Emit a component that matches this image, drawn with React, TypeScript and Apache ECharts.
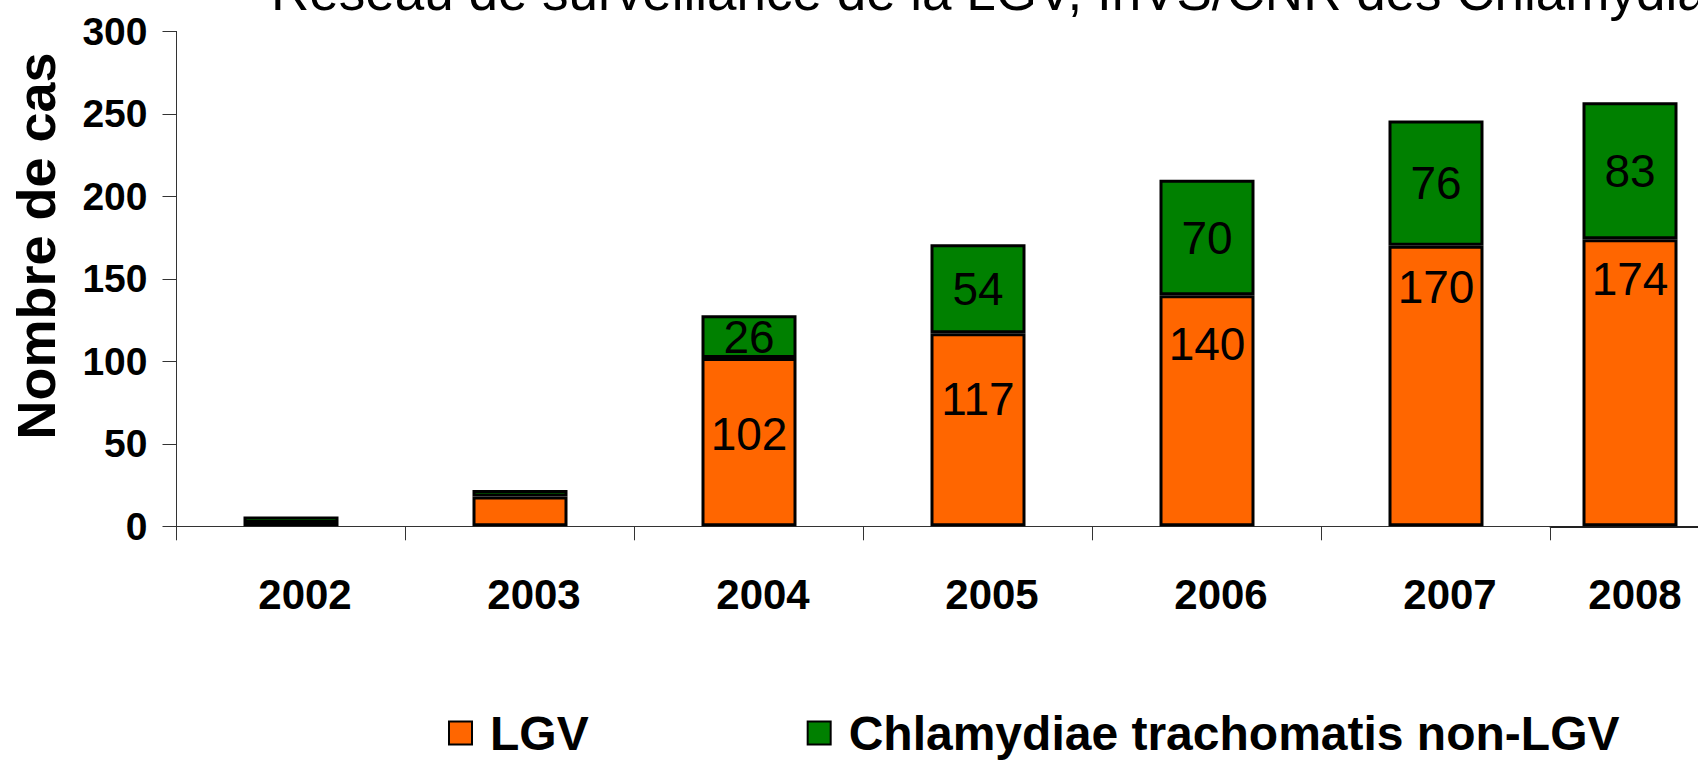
import React, { useEffect, useRef } from "react";
import * as echarts from "echarts";

const years = ["2002", "2003", "2004", "2005", "2006", "2007", "2008"];
const lgv = [2, 18, 102, 117, 140, 170, 174];
const nonLgv = [4, 4, 26, 54, 70, 76, 83];
const lgvLabelDistance = [0, 0, 53, 43, 26, 18, 17];
const yMin = 0;
const yMax = 300;
const yStep = 50;
const seriesNames = ["LGV", "Chlamydiae trachomatis non-LGV"];
const titleText = "Réseau de surveillance de la LGV, InVS/CNR des Chlamydiae";
const yName = "Nombre de cas";
// the last year sits in its own (narrower) panel, as in the source slide
const mainCount = 6;

const SANS = "'Liberation Sans', Arial, Helvetica, sans-serif";

export default function App() {
  const ref = useRef<HTMLDivElement>(null);
  useEffect(() => {
    if (!ref.current) return;
    const chart = echarts.init(ref.current, null, { renderer: "svg" });
    const showVal = (p: any) => (p.value >= 20 ? String(p.value) : "");
    const axisLineStyle = { color: "#333", width: 1 };
    const yAxisBase = {
      type: "value",
      min: yMin,
      max: yMax,
      interval: yStep,
      splitLine: { show: false },
    };
    const xLabelStyle = { fontFamily: SANS, fontSize: 42, fontWeight: "bold", color: "#000" };
    const lgvLabel = {
      show: true,
      position: "insideTop",
      formatter: showVal,
      fontFamily: SANS,
      fontSize: 46,
      color: "#000",
      textBorderWidth: 0,
    };
    const nonLabel = {
      show: true,
      position: "inside",
      formatter: showVal,
      fontFamily: SANS,
      fontSize: 46,
      color: "#000",
      textBorderWidth: 0,
    };
    const lgvItem = { color: "#FF6600", borderColor: "#000", borderWidth: 3 };
    const nonItem = { color: "#008000", borderColor: "#000", borderWidth: 3 };
    const lgvData = lgv.map((v, i) => ({ value: v, label: { distance: lgvLabelDistance[i] } }));

    chart.setOption({
      animation: false,
      backgroundColor: "#fff",
      title: {
        text: titleText,
        left: 266,
        top: -40,
        textStyle: { fontFamily: SANS, fontSize: 53, fontWeight: "normal", color: "#000" },
      },
      grid: [
        { left: 176.5, top: 31.4, width: 1374, height: 494.9, outerBoundsMode: "none", containLabel: false },
        { left: 1550.5, top: 31.4, width: 159, height: 494.9, outerBoundsMode: "none", containLabel: false },
      ],
      legend: {
        data: seriesNames,
        left: 443,
        top: 704,
        itemWidth: 23,
        itemHeight: 23,
        itemGap: 218,
        icon: "rect",
        itemStyle: { borderColor: "#000", borderWidth: 2 },
        textStyle: {
          fontFamily: SANS,
          fontSize: 48,
          lineHeight: 44,
          fontWeight: "bold",
          color: "#000",
          padding: [0, 0, 0, 13],
        },
      },
      xAxis: [
        {
          type: "category",
          gridIndex: 0,
          data: years.slice(0, mainCount),
          axisLine: { show: true, lineStyle: axisLineStyle },
          axisTick: { show: true, length: 14, interval: 0, lineStyle: axisLineStyle },
          axisLabel: { interval: 0, margin: 47, padding: [0, 0, 0, 28], ...xLabelStyle },
        },
        {
          type: "category",
          gridIndex: 1,
          data: years.slice(mainCount),
          axisLine: { show: true, lineStyle: { color: "#222", width: 2 } },
          axisTick: { show: false },
          axisLabel: { interval: 0, margin: 47, padding: [0, 0, 0, 10], ...xLabelStyle },
        },
      ],
      yAxis: [
        {
          ...yAxisBase,
          gridIndex: 0,
          axisLine: { show: true, lineStyle: axisLineStyle },
          axisTick: { show: true, length: 14, lineStyle: axisLineStyle },
          axisLabel: { margin: 29, fontFamily: SANS, fontSize: 39, fontWeight: "bold", color: "#000" },
        },
        { ...yAxisBase, gridIndex: 1, show: false },
      ],
      graphic: [
        {
          type: "text",
          x: 36,
          y: 246,
          rotation: Math.PI / 2,
          style: {
            text: yName,
            fontFamily: SANS,
            fontSize: 54,
            fontWeight: "bold",
            fill: "#000",
            align: "center",
            verticalAlign: "middle",
          },
        },
      ],
      series: [
        {
          name: seriesNames[0],
          type: "bar",
          stack: "total",
          xAxisIndex: 0,
          yAxisIndex: 0,
          barWidth: 95,
          itemStyle: lgvItem,
          label: lgvLabel,
          data: lgvData.slice(0, mainCount),
        },
        {
          name: seriesNames[1],
          type: "bar",
          stack: "total",
          xAxisIndex: 0,
          yAxisIndex: 0,
          barWidth: 95,
          itemStyle: nonItem,
          label: nonLabel,
          data: nonLgv.slice(0, mainCount),
        },
        {
          name: seriesNames[0],
          type: "bar",
          stack: "total2",
          xAxisIndex: 1,
          yAxisIndex: 1,
          barWidth: 95,
          itemStyle: lgvItem,
          label: lgvLabel,
          data: lgvData.slice(mainCount),
        },
        {
          name: seriesNames[1],
          type: "bar",
          stack: "total2",
          xAxisIndex: 1,
          yAxisIndex: 1,
          barWidth: 95,
          itemStyle: nonItem,
          label: nonLabel,
          data: nonLgv.slice(mainCount),
        },
      ],
    });
    return () => chart.dispose();
  }, []);
  return (
    <div
      ref={ref}
      style={{ position: "fixed", left: 0, top: 0, width: 1698, height: 761, background: "#fff" }}
    />
  );
}
